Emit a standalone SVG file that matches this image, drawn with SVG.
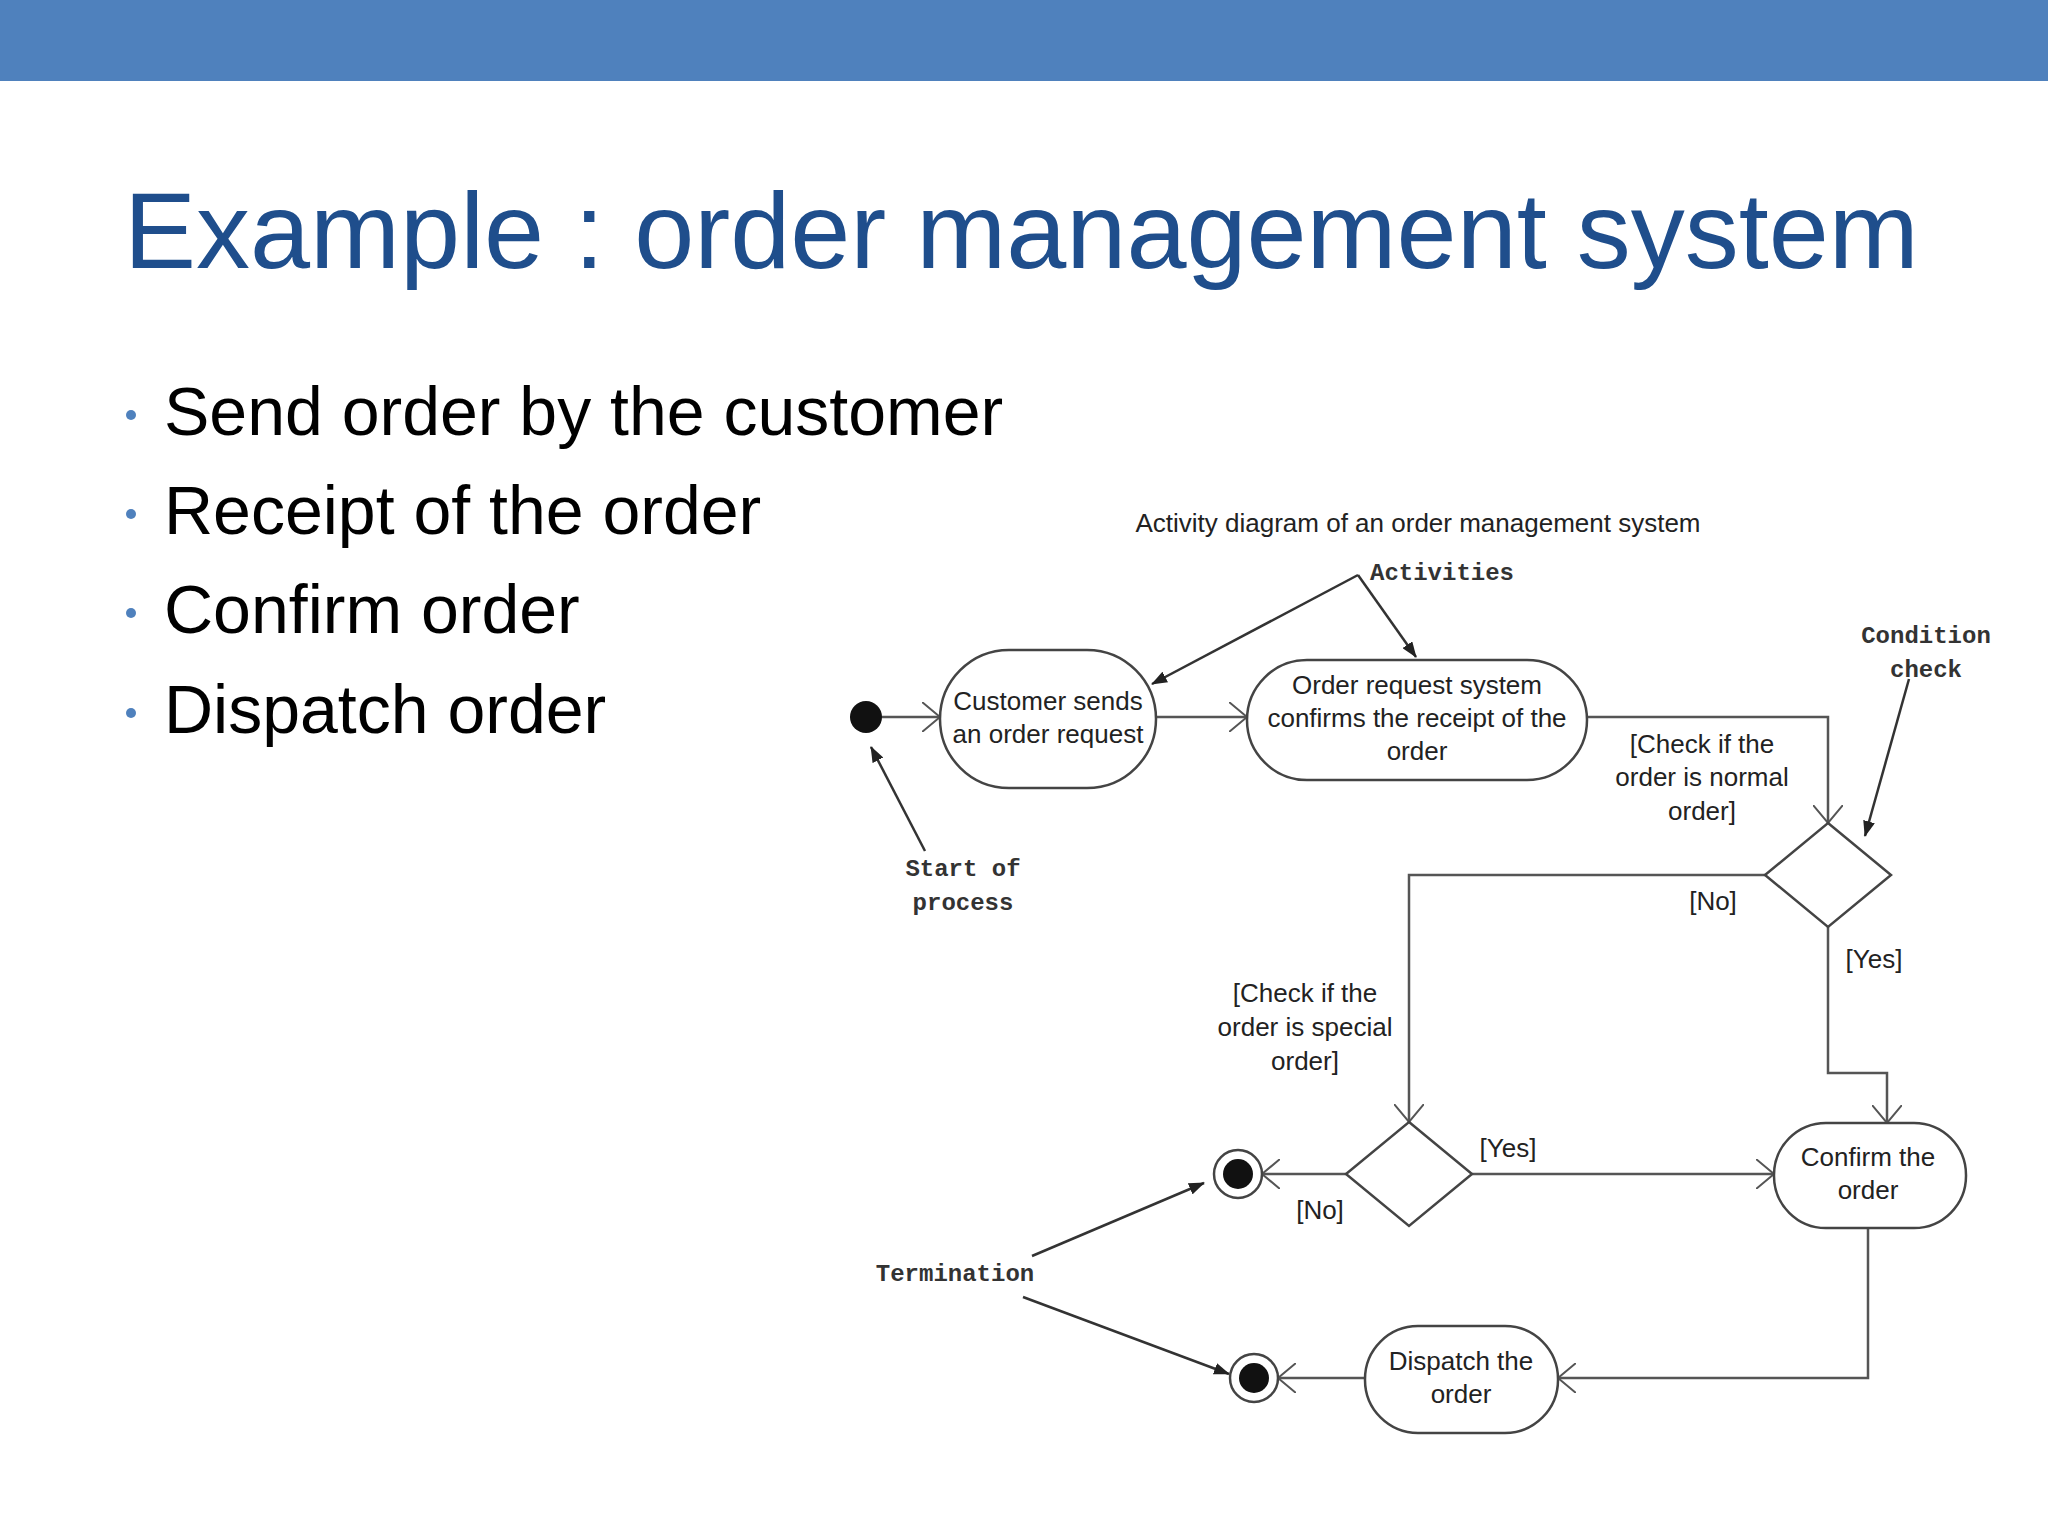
<svg xmlns="http://www.w3.org/2000/svg" width="2048" height="1536" viewBox="0 0 2048 1536">
<style>
.t{font-family:"Liberation Sans",Arial,sans-serif;fill:#222;font-size:26px;text-anchor:middle}
.m{font-family:"Liberation Mono","Courier New",monospace;font-weight:bold;fill:#333;font-size:24px;text-anchor:middle}
.b{font-family:"Liberation Sans",Arial,sans-serif;fill:#000;font-size:68px}
.n{fill:#fff;stroke:#444;stroke-width:2.5}
.e{fill:none;stroke:#555;stroke-width:2.5;marker-end:url(#open)}
.a{fill:none;stroke:#333;stroke-width:2.5;marker-end:url(#fill)}
</style>
<defs>
<marker id="open" viewBox="0 0 20 30" refX="18" refY="15" markerWidth="20" markerHeight="30" markerUnits="userSpaceOnUse" orient="auto"><path d="M0,0 L18,15 L0,30" fill="none" stroke="#555" stroke-width="2"/></marker>
<marker id="fill" viewBox="0 0 16 12" refX="15" refY="6" markerWidth="16" markerHeight="12" markerUnits="userSpaceOnUse" orient="auto"><path d="M0,0 L16,6 L0,12 Z" fill="#222"/></marker>
</defs>
<rect width="2048" height="1536" fill="#fff"/>
<rect width="2048" height="81" fill="#4f81bd"/>
<text x="124" y="268" font-family="Liberation Sans,Arial,sans-serif" font-size="108" fill="#1f4e8c">Example : order management system</text>
<g fill="#4f81bd"><circle cx="131" cy="415" r="5"/><circle cx="131" cy="514" r="5"/><circle cx="131" cy="613" r="5"/><circle cx="131" cy="713" r="5"/></g>
<text class="b" x="164" y="435">Send order by the customer</text>
<text class="b" x="164" y="534">Receipt of the order</text>
<text class="b" x="164" y="633">Confirm order</text>
<text class="b" x="164" y="733">Dispatch order</text>
<text class="t" x="1418" y="532" font-size="25">Activity diagram of an order management system</text>

<g id="connectors">
<path class="e" d="M882,717 H940"/>
<path class="e" d="M1156,717 H1247"/>
<path class="e" d="M1587,717 H1828 V823"/>
<path class="e" d="M1765,875 H1409 V1122"/>
<path class="e" d="M1828,927 V1073 H1887 V1123"/>
<path class="e" d="M1472,1174 H1774"/>
<path class="e" d="M1346,1174 H1262"/>
<path class="e" d="M1868,1228 V1378 H1558"/>
<path class="e" d="M1365,1378 H1278"/>
<path class="a" d="M1358,575 L1152,684"/>
<path class="a" d="M1358,575 L1416,657"/>
<path class="a" d="M1909,679 L1865,836"/>
<path class="a" d="M925,851 L871,747"/>
<path class="a" d="M1032,1256 L1204,1183"/>
<path class="a" d="M1023,1297 L1229,1374"/>
</g>
<g id="start"><circle cx="866" cy="717" r="16" fill="#111"/></g>
<g id="customer"><rect class="n" x="940" y="650" width="216" height="138" rx="69"/><text class="t" x="1048" y="710">Customer sends</text><text class="t" x="1048" y="743">an order request</text></g>
<g id="receipt"><rect class="n" x="1247" y="660" width="340" height="120" rx="60"/><text class="t" x="1417" y="694">Order request system</text><text class="t" x="1417" y="727">confirms the receipt of the</text><text class="t" x="1417" y="760">order</text></g>
<g id="d1"><path class="n" d="M1828,823 L1891,875 L1828,927 L1765,875 Z"/></g>
<g id="d2"><path class="n" d="M1409,1122 L1472,1174 L1409,1226 L1346,1174 Z"/></g>
<g id="confirm"><rect class="n" x="1774" y="1123" width="192" height="105" rx="52"/><text class="t" x="1868" y="1166">Confirm the</text><text class="t" x="1868" y="1199">order</text></g>
<g id="dispatch"><rect class="n" x="1365" y="1326" width="193" height="107" rx="53"/><text class="t" x="1461" y="1370">Dispatch the</text><text class="t" x="1461" y="1403">order</text></g>
<g id="end1"><circle cx="1238" cy="1174" r="24" fill="#fff" stroke="#444" stroke-width="2.5"/><circle cx="1238" cy="1174" r="15" fill="#111"/></g>
<g id="end2"><circle cx="1254" cy="1378" r="24" fill="#fff" stroke="#444" stroke-width="2.5"/><circle cx="1254" cy="1378" r="15" fill="#111"/></g>
<g id="labels">
<text class="m" x="1442" y="580">Activities</text>
<text class="m" x="1926" y="643">Condition</text><text class="m" x="1926" y="677">check</text>
<text class="m" x="963" y="876">Start of</text><text class="m" x="963" y="910">process</text>
<text class="m" x="955" y="1281">Termination</text>
<text class="t" x="1702" y="753">[Check if the</text><text class="t" x="1702" y="786">order is normal</text><text class="t" x="1702" y="820">order]</text>
<text class="t" x="1713" y="910">[No]</text>
<text class="t" x="1874" y="968">[Yes]</text>
<text class="t" x="1305" y="1002">[Check if the</text><text class="t" x="1305" y="1036">order is special</text><text class="t" x="1305" y="1070">order]</text>
<text class="t" x="1508" y="1157">[Yes]</text>
<text class="t" x="1320" y="1219">[No]</text>
</g>
</svg>
